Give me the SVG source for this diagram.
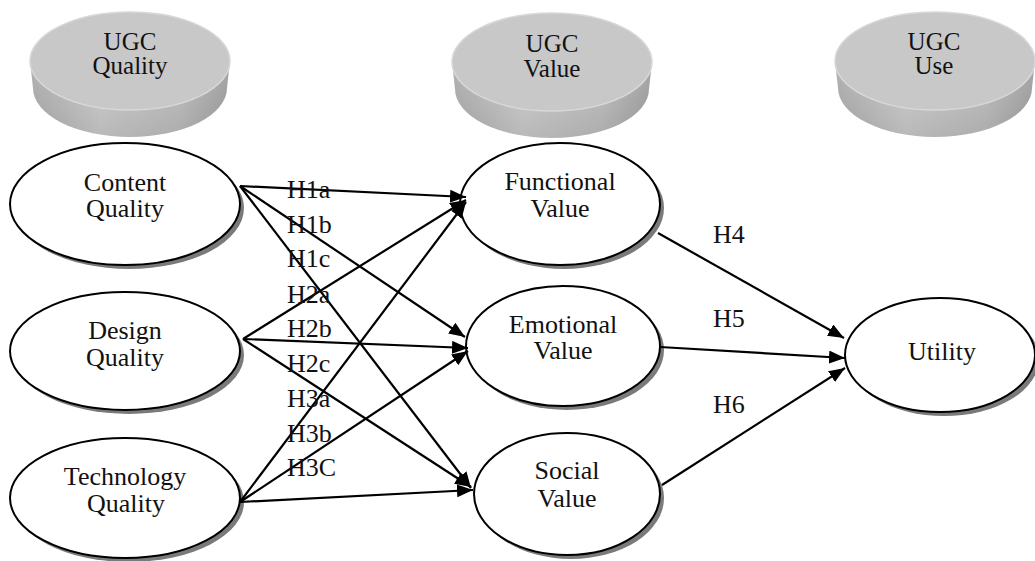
<svg xmlns="http://www.w3.org/2000/svg" width="1035" height="561" viewBox="0 0 1035 561">
<defs>
<linearGradient id="side" x1="0" y1="0" x2="1" y2="0">
<stop offset="0" stop-color="#b4b4b4"/>
<stop offset="0.35" stop-color="#d2d2d2"/>
<stop offset="0.75" stop-color="#c4c4c4"/>
<stop offset="1" stop-color="#a8a8a8"/>
</linearGradient>
<linearGradient id="sideV" x1="0" y1="0" x2="0" y2="1">
<stop offset="0" stop-color="#000" stop-opacity="0"/>
<stop offset="1" stop-color="#000" stop-opacity="0.12"/>
</linearGradient>
<marker id="ah" markerUnits="userSpaceOnUse" markerWidth="18" markerHeight="14" refX="16" refY="6.5" orient="auto">
<path d="M0,0 L16,6.5 L0,13 Z" fill="#000"/>
</marker>
</defs>
<style>
text{font-family:"Liberation Serif","Times New Roman",serif;font-size:26px;fill:#111;text-anchor:middle}
.disc{font-size:25px}
.lab{text-anchor:start}
.node{fill:#fff;stroke:#000;stroke-width:2}
.shadow{fill:#7a7a7a;stroke:none}
.top{fill:#c8c8c8;stroke:#d8d8d8;stroke-width:1.5}
.edge{fill:none;stroke:#000;stroke-width:2.2;marker-end:url(#ah)}
</style>
<rect width="1035" height="561" fill="#fff"/>

<g id="disc-quality">
<path d="M30,61 L33,88 A97,49 0 0 0 227,88 L230,61 Z" fill="url(#side)"/>
<path d="M30,61 L33,88 A97,49 0 0 0 227,88 L230,61 Z" fill="url(#sideV)"/>
<ellipse cx="130" cy="61" rx="100" ry="49" class="top"/>
<text class="disc" x="130" y="50"><tspan x="130">UGC</tspan><tspan x="130" dy="24">Quality</tspan></text>
</g>
<g id="disc-value">
<path d="M452,62 L455,89 A97,49 0 0 0 649,89 L652,62 Z" fill="url(#side)"/>
<path d="M452,62 L455,89 A97,49 0 0 0 649,89 L652,62 Z" fill="url(#sideV)"/>
<ellipse cx="552" cy="62" rx="100" ry="49" class="top"/>
<text class="disc" x="552" y="52"><tspan x="552">UGC</tspan><tspan x="552" dy="25">Value</tspan></text>
</g>
<g id="disc-use">
<path d="M835,61 L838,88 A97,49 0 0 0 1032,88 L1035,61 Z" fill="url(#side)"/>
<path d="M835,61 L838,88 A97,49 0 0 0 1032,88 L1035,61 Z" fill="url(#sideV)"/>
<ellipse cx="935" cy="61" rx="100" ry="49" class="top"/>
<text class="disc" x="934" y="50"><tspan x="934">UGC</tspan><tspan x="934" dy="24">Use</tspan></text>
</g>

<g id="content-quality">
<ellipse cx="129" cy="208" rx="115" ry="61" class="shadow"/>
<ellipse cx="125" cy="204" rx="115" ry="61" class="node"/>
<text x="125" y="191"><tspan x="125">Content</tspan><tspan x="125" dy="26">Quality</tspan></text>
</g>
<g id="design-quality">
<ellipse cx="129" cy="355" rx="115" ry="59" class="shadow"/>
<ellipse cx="125" cy="351" rx="115" ry="59" class="node"/>
<text x="125" y="339"><tspan x="125">Design</tspan><tspan x="125" dy="27">Quality</tspan></text>
</g>
<g id="technology-quality">
<ellipse cx="129" cy="502" rx="115" ry="60" class="shadow"/>
<ellipse cx="125" cy="498" rx="115" ry="60" class="node"/>
<text x="125" y="485"><tspan x="125">Technology</tspan><tspan x="126" dy="27">Quality</tspan></text>
</g>

<g id="functional-value">
<ellipse cx="564" cy="208" rx="100" ry="61" class="shadow"/>
<ellipse cx="560" cy="204" rx="100" ry="61" class="node"/>
<text x="560" y="190"><tspan x="560">Functional</tspan><tspan x="560" dy="27">Value</tspan></text>
</g>
<g id="emotional-value">
<ellipse cx="567" cy="350" rx="97" ry="60" class="shadow"/>
<ellipse cx="563" cy="346" rx="97" ry="60" class="node"/>
<text x="563" y="333"><tspan x="563">Emotional</tspan><tspan x="563" dy="26">Value</tspan></text>
</g>
<g id="social-value">
<ellipse cx="571" cy="498" rx="93" ry="61" class="shadow"/>
<ellipse cx="567" cy="494" rx="93" ry="61" class="node"/>
<text x="567" y="479"><tspan x="567">Social</tspan><tspan x="567" dy="28">Value</tspan></text>
</g>
<g id="utility">
<ellipse cx="944" cy="359" rx="95" ry="57" class="shadow"/>
<ellipse cx="940" cy="355" rx="95" ry="57" class="node"/>
<text x="942" y="360">Utility</text>
</g>

<g id="connectors">
<line x1="240" y1="186" x2="466" y2="197" class="edge"/>
<line x1="240" y1="186" x2="465" y2="337" class="edge"/>
<line x1="240" y1="186" x2="471" y2="488" class="edge"/>
<line x1="243" y1="339" x2="466" y2="200" class="edge"/>
<line x1="243" y1="339" x2="468" y2="348" class="edge"/>
<line x1="243" y1="339" x2="471" y2="487" class="edge"/>
<line x1="240" y1="502" x2="466" y2="202" class="edge"/>
<line x1="240" y1="502" x2="468" y2="351" class="edge"/>
<line x1="240" y1="502" x2="473" y2="490" class="edge"/>
<line x1="658" y1="233" x2="844" y2="338" class="edge"/>
<line x1="660" y1="347" x2="845" y2="358" class="edge"/>
<line x1="662" y1="485" x2="845" y2="368" class="edge"/>
</g>

<g id="labels">
<text class="lab" x="287" y="198">H1a</text>
<text class="lab" x="287" y="233">H1b</text>
<text class="lab" x="287" y="267">H1c</text>
<text class="lab" x="287" y="303">H2a</text>
<text class="lab" x="287" y="337">H2b</text>
<text class="lab" x="287" y="372">H2c</text>
<text class="lab" x="287" y="407">H3a</text>
<text class="lab" x="287" y="442">H3b</text>
<text class="lab" x="287" y="476">H3C</text>
<text class="lab" x="713" y="243">H4</text>
<text class="lab" x="713" y="327">H5</text>
<text class="lab" x="713" y="413">H6</text>
</g>
</svg>
